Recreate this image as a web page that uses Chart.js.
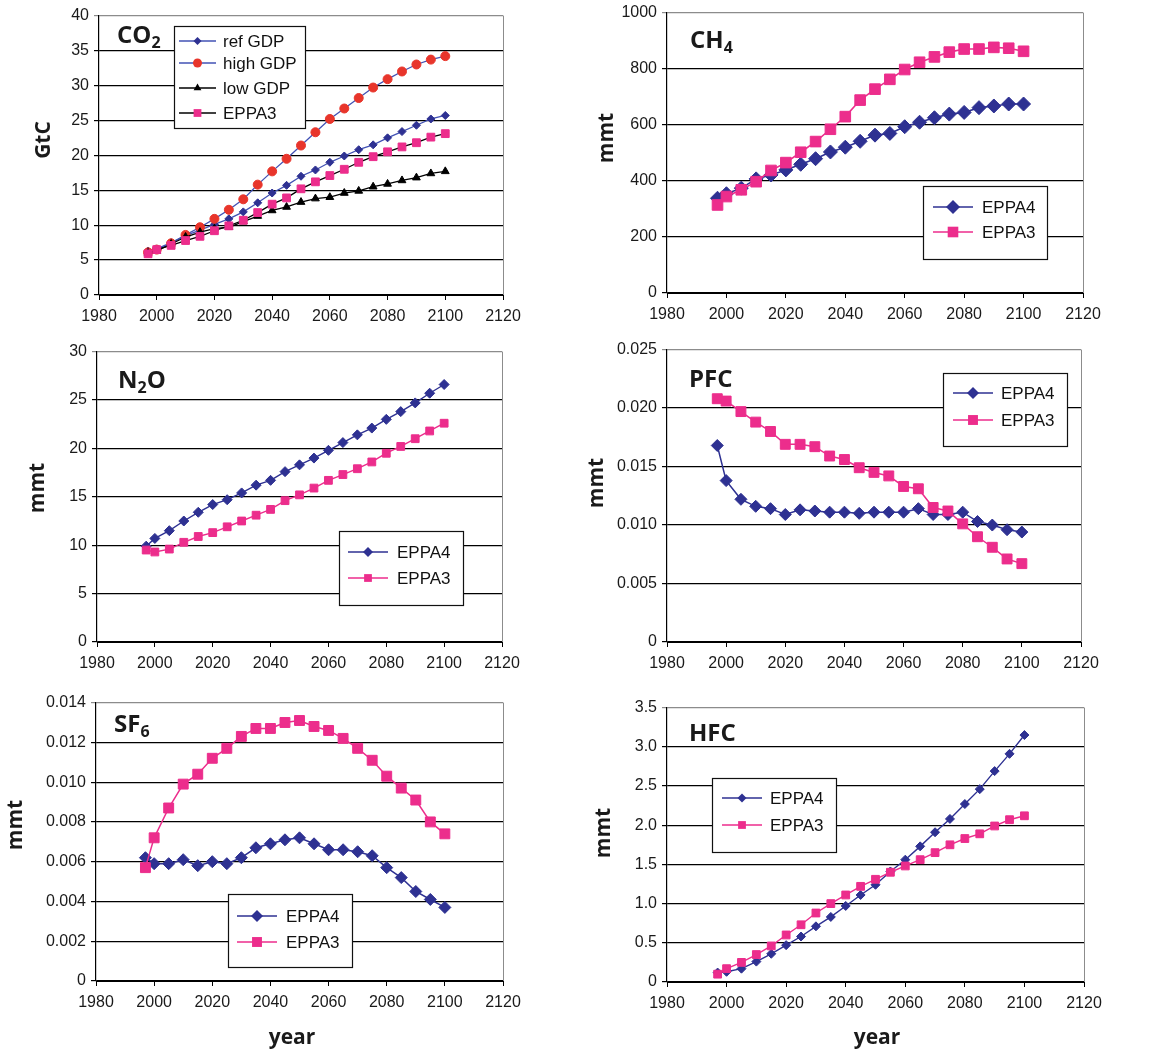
<!DOCTYPE html>
<html>
<head>
<meta charset="utf-8">
<script src="https://cdn.jsdelivr.net/npm/chart.js@4.4.1/dist/chart.umd.min.js"></script>
<style>
  html, body { margin: 0; padding: 0; background: #fff; }
  body { width: 1164px; height: 1052px; position: relative; overflow: hidden; }
  canvas { position: absolute; }
</style>
</head>
<body>
<canvas id="co2"></canvas>
<canvas id="ch4"></canvas>
<canvas id="n2o"></canvas>
<canvas id="pfc"></canvas>
<canvas id="sf6"></canvas>
<canvas id="hfc"></canvas>
<script>
// data
const years = [1997, 2000, 2005, 2010, 2015, 2020, 2025, 2030, 2035, 2040, 2045,
               2050, 2055, 2060, 2065, 2070, 2075, 2080, 2085, 2090, 2095, 2100];
const xTickLabels = ['1980', '2000', '2020', '2040', '2060', '2080', '2100', '2120'];

const co2RefGdp  = [6.3, 6.6, 7.5, 8.5, 9.3, 10.1, 10.9, 11.9, 13.2, 14.6, 15.7, 17.0, 17.9, 19.0, 19.9, 20.8, 21.5, 22.5, 23.4, 24.3, 25.2, 25.7];
const co2HighGdp = [6.1, 6.5, 7.4, 8.6, 9.7, 10.9, 12.2, 13.7, 15.8, 17.7, 19.5, 21.4, 23.3, 25.2, 26.7, 28.2, 29.7, 30.9, 32.0, 33.0, 33.7, 34.2];
const co2LowGdp  = [6.0, 6.3, 7.3, 8.3, 9.0, 9.5, 9.7, 10.5, 11.3, 12.1, 12.6, 13.3, 13.8, 14.0, 14.6, 14.9, 15.5, 15.9, 16.4, 16.8, 17.4, 17.7];
const co2Eppa3   = [5.9, 6.5, 7.1, 7.8, 8.4, 9.2, 9.9, 10.7, 11.8, 13.0, 13.9, 15.2, 16.2, 17.1, 18.0, 19.0, 19.8, 20.5, 21.2, 21.8, 22.6, 23.1];
const co2Ticks   = ['0', '5', '10', '15', '20', '25', '30', '35', '40'];

const ch4Eppa4 = [338, 354, 374, 407, 421, 439, 459, 479, 503, 520, 541, 563, 569, 593, 609, 625, 638, 644, 661, 667, 674, 674];
const ch4Eppa3 = [314, 344, 368, 397, 437, 465, 502, 540, 584, 629, 688, 727, 762, 797, 823, 842, 859, 870, 870, 876, 873, 862];
const ch4Ticks = ['0', '200', '400', '600', '800', '1000'];

const n2oEppa4 = [9.9, 10.7, 11.5, 12.5, 13.4, 14.2, 14.7, 15.4, 16.2, 16.7, 17.6, 18.3, 19.0, 19.8, 20.6, 21.4, 22.1, 23.0, 23.8, 24.7, 25.7, 26.6];
const n2oEppa3 = [9.5, 9.3, 9.6, 10.3, 10.9, 11.3, 11.9, 12.5, 13.1, 13.7, 14.6, 15.2, 15.9, 16.7, 17.3, 17.9, 18.6, 19.5, 20.2, 21.0, 21.8, 22.6];
const n2oTicks = ['0', '5', '10', '15', '20', '25', '30'];

const pfcEppa4 = [0.0168, 0.0138, 0.0122, 0.0116, 0.0114, 0.0109, 0.0113, 0.0112, 0.0111, 0.0111, 0.0110,
                  0.0111, 0.0111, 0.0111, 0.0114, 0.0109, 0.0109, 0.0111, 0.0103, 0.0100, 0.0096, 0.0094];
const pfcEppa3 = [0.0208, 0.0206, 0.0197, 0.0188, 0.0180, 0.0169, 0.0169, 0.0167, 0.0159, 0.0156, 0.0149,
                  0.0145, 0.0142, 0.0133, 0.0131, 0.0115, 0.0112, 0.0101, 0.0090, 0.0081, 0.0071, 0.0067];
const pfcTicks = ['0', '0.005', '0.010', '0.015', '0.020', '0.025'];

const sf6Eppa4 = [0.0062, 0.0059, 0.0059, 0.0061, 0.0058, 0.0060, 0.0059, 0.0062, 0.0067, 0.0069, 0.0071,
                  0.0072, 0.0069, 0.0066, 0.0066, 0.0065, 0.0063, 0.0057, 0.0052, 0.0045, 0.0041, 0.0037];
const sf6Eppa3 = [0.0057, 0.0072, 0.0087, 0.0099, 0.0104, 0.0112, 0.0117, 0.0123, 0.0127, 0.0127, 0.0130,
                  0.0131, 0.0128, 0.0126, 0.0122, 0.0117, 0.0111, 0.0103, 0.0097, 0.0091, 0.0080, 0.0074];
const sf6Ticks = ['0', '0.002', '0.004', '0.006', '0.008', '0.010', '0.012', '0.014'];

const hfcEppa4 = [0.12, 0.13, 0.17, 0.26, 0.36, 0.47, 0.58, 0.71, 0.83, 0.97, 1.11, 1.24, 1.41, 1.56, 1.73, 1.91, 2.08, 2.27, 2.46, 2.69, 2.91, 3.15];
const hfcEppa3 = [0.10, 0.17, 0.25, 0.35, 0.46, 0.60, 0.73, 0.88, 1.00, 1.11, 1.22, 1.31, 1.40, 1.48, 1.56, 1.65, 1.75, 1.83, 1.89, 1.99, 2.07, 2.12];
const hfcTicks = ['0', '0.5', '1.0', '1.5', '2.0', '2.5', '3.0', '3.5'];

const NAVY = '#2e3192';
const BLUE = '#4252b4';
const PINK = '#ec2d8c';
const RED = '#e8352b';

Chart.defaults.font.family = '"Liberation Sans", Arial, sans-serif';
Chart.defaults.font.size = 16;
Chart.defaults.color = '#1a1a1a';

function pts(vals) {
    return years.map((x, i) => ({ x: x, y: vals[i] }));
}

function series(label, vals, lineColor, markColor, style, radius, width) {
    return {
        label: label,
        data: pts(vals),
        borderColor: lineColor,
        backgroundColor: markColor,
        pointBackgroundColor: markColor,
        pointBorderColor: markColor,
        pointStyle: style,
        pointRadius: radius,
        pointBorderWidth: 1,
        borderWidth: width,
        tension: 0,
        fill: false
    };
}

function drawMarker(ctx, style, x, y, r) {
    ctx.beginPath();
    if (style === 'rectRot') {
        ctx.moveTo(x, y - r); ctx.lineTo(x + r, y); ctx.lineTo(x, y + r); ctx.lineTo(x - r, y);
        ctx.closePath();
    } else if (style === 'rect') {
        const s = r * Math.SQRT1_2;
        ctx.rect(x - s, y - s, 2 * s, 2 * s);
    } else if (style === 'circle') {
        ctx.arc(x, y, r, 0, Math.PI * 2);
    } else if (style === 'triangle') {
        for (let k = 0; k < 3; k++) {
            const a = k * 2 * Math.PI / 3;
            const px = x + Math.sin(a) * r, py = y - Math.cos(a) * r;
            if (k === 0) ctx.moveTo(px, py); else ctx.lineTo(px, py);
        }
        ctx.closePath();
    }
    ctx.fill();
}

// titles, axis names, right border and legend box
const decor = {
    id: 'decor',
    afterDraw(chart) {
        const d = chart.options.plugins.decor;
        const ctx = chart.ctx;
        const a = chart.chartArea;
        const ox = d.ox, oy = d.oy;
        ctx.save();

        ctx.strokeStyle = '#8c8c8c';
        ctx.lineWidth = 1;
        const rx = Math.round(a.right) + 0.5;
        ctx.beginPath(); ctx.moveTo(rx, a.top); ctx.lineTo(rx, a.bottom); ctx.stroke();

        // panel title with subscripts
        let tx = d.title.x - ox;
        const ty = d.title.y - oy;
        ctx.fillStyle = '#1a1a1a';
        ctx.textAlign = 'left';
        ctx.textBaseline = 'alphabetic';
        d.title.parts.forEach(p => {
            ctx.font = p.sub ? '700 16px "Open Sans"' : '700 24px "Open Sans"';
            ctx.fillText(p.t, tx, p.sub ? ty + 5 : ty);
            tx += ctx.measureText(p.t).width;
        });

        ctx.font = '700 21px "Open Sans"';
        ctx.textAlign = 'center';
        ctx.textBaseline = 'middle';
        ctx.save();
        ctx.translate(d.yTitle.x - ox, d.yTitle.y - oy);
        ctx.rotate(-Math.PI / 2);
        ctx.fillText(d.yTitle.text, 0, 0);
        ctx.restore();
        if (d.xTitle) {
            ctx.fillText(d.xTitle.text, d.xTitle.x - ox, d.xTitle.y - oy);
        }

        // legend
        const L = d.legend;
        const bx = L.box[0] - ox + 0.5, by = L.box[1] - oy + 0.5;
        const bw = L.box[2] - L.box[0], bh = L.box[3] - L.box[1];
        ctx.fillStyle = '#fff';
        ctx.fillRect(bx, by, bw, bh);
        ctx.strokeStyle = '#111';
        ctx.lineWidth = 1.2;
        ctx.strokeRect(bx, by, bw, bh);
        ctx.font = '17px "Liberation Sans"';
        ctx.textAlign = 'left';
        chart.data.datasets.forEach((ds, i) => {
            const y = L.rows[i] - oy;
            ctx.strokeStyle = ds.borderColor;
            ctx.lineWidth = ds.borderWidth;
            ctx.beginPath(); ctx.moveTo(L.line[0] - ox, y); ctx.lineTo(L.line[1] - ox, y); ctx.stroke();
            ctx.fillStyle = ds.pointBackgroundColor;
            drawMarker(ctx, ds.pointStyle, (L.line[0] + L.line[1]) / 2 - ox, y, ds.pointRadius);
            ctx.fillStyle = '#111';
            ctx.fillText(ds.label, L.textX - ox, y + 1);
        });
        ctx.restore();
    }
};

const panels = [
    {
        id: 'co2', col: 0, area: { l: 99, r: 503, t: 15, b: 295 }, bottomRow: false,
        yMax: 40, yStep: 5, yTicks: co2Ticks,
        datasets: [
            series('ref GDP', co2RefGdp, BLUE, NAVY, 'rectRot', 4, 1.3),
            series('high GDP', co2HighGdp, BLUE, RED, 'circle', 4.5, 1.3),
            series('low GDP', co2LowGdp, '#000', '#000', 'triangle', 4.5, 1.3),
            series('EPPA3', co2Eppa3, '#000', PINK, 'rect', 5.5, 1.3)
        ],
        title: { x: 117, y: 43, parts: [{ t: 'CO' }, { t: '2', sub: true }] },
        yTitle: { x: 44, y: 140, text: 'GtC' },
        legend: { box: [174, 26, 305, 128], rows: [41, 63, 88, 113], line: [179, 216], textX: 223 }
    },
    {
        id: 'ch4', col: 1, area: { l: 667, r: 1083, t: 12, b: 293 }, bottomRow: false,
        yMax: 1000, yStep: 200, yTicks: ch4Ticks,
        datasets: [
            series('EPPA4', ch4Eppa4, NAVY, NAVY, 'rectRot', 7, 1.6),
            series('EPPA3', ch4Eppa3, PINK, PINK, 'rect', 7.5, 1.6)
        ],
        title: { x: 690, y: 48, parts: [{ t: 'CH' }, { t: '4', sub: true }] },
        yTitle: { x: 607, y: 138, text: 'mmt' },
        legend: { box: [923, 186, 1047, 259], rows: [207, 232], line: [933, 973], textX: 982 }
    },
    {
        id: 'n2o', col: 0, area: { l: 97, r: 502, t: 351, b: 642 }, bottomRow: false,
        yMax: 30, yStep: 5, yTicks: n2oTicks,
        datasets: [
            series('EPPA4', n2oEppa4, NAVY, NAVY, 'rectRot', 5, 1.4),
            series('EPPA3', n2oEppa3, PINK, PINK, 'rect', 5.5, 1.4)
        ],
        title: { x: 118, y: 388, parts: [{ t: 'N' }, { t: '2', sub: true }, { t: 'O' }] },
        yTitle: { x: 38, y: 488, text: 'mmt' },
        legend: { box: [339, 531, 463, 605], rows: [552, 578], line: [348, 388], textX: 397 }
    },
    {
        id: 'pfc', col: 1, area: { l: 667, r: 1081, t: 349, b: 642 }, bottomRow: false,
        yMax: 0.025, yStep: 0.005, yTicks: pfcTicks,
        datasets: [
            series('EPPA4', pfcEppa4, NAVY, NAVY, 'rectRot', 6, 1.5),
            series('EPPA3', pfcEppa3, PINK, PINK, 'rect', 7, 1.5)
        ],
        title: { x: 689, y: 387, parts: [{ t: 'PFC' }] },
        yTitle: { x: 597, y: 483, text: 'mmt' },
        legend: { box: [943, 373, 1067, 446], rows: [393, 420], line: [953, 993], textX: 1001 }
    },
    {
        id: 'sf6', col: 0, area: { l: 96, r: 503, t: 702, b: 981 }, bottomRow: true,
        yMax: 0.014, yStep: 0.002, yTicks: sf6Ticks,
        datasets: [
            series('EPPA4', sf6Eppa4, NAVY, NAVY, 'rectRot', 6, 1.5),
            series('EPPA3', sf6Eppa3, PINK, PINK, 'rect', 7, 1.5)
        ],
        title: { x: 114, y: 732, parts: [{ t: 'SF' }, { t: '6', sub: true }] },
        yTitle: { x: 16, y: 825, text: 'mmt' },
        xTitle: { x: 292, y: 1038, text: 'year' },
        legend: { box: [228, 894, 352, 967], rows: [916, 942], line: [237, 277], textX: 286 }
    },
    {
        id: 'hfc', col: 1, area: { l: 667, r: 1084, t: 707, b: 982 }, bottomRow: true,
        yMax: 3.5, yStep: 0.5, yTicks: hfcTicks,
        datasets: [
            series('EPPA4', hfcEppa4, NAVY, NAVY, 'rectRot', 4.5, 1.4),
            series('EPPA3', hfcEppa3, PINK, PINK, 'rect', 5.5, 1.4)
        ],
        title: { x: 689, y: 741, parts: [{ t: 'HFC' }] },
        yTitle: { x: 604, y: 833, text: 'mmt' },
        xTitle: { x: 877, y: 1038, text: 'year' },
        legend: { box: [712, 778, 836, 852], rows: [798, 825], line: [722, 762], textX: 770 }
    }
];

panels.forEach(p => {
    const padTop = 14, padRight = 30;
    const left = p.col === 0 ? 0 : 580;
    const top = p.area.t - padTop;
    const width = p.area.r + padRight - left;
    const bottom = p.bottomRow ? 1052 : p.area.b + 40;
    const height = bottom - top;
    const yw = p.area.l - left;
    const xh = bottom - p.area.b;

    const canvas = document.getElementById(p.id);
    canvas.width = width;
    canvas.height = height;
    canvas.style.left = left + 'px';
    canvas.style.top = top + 'px';
    canvas.style.width = width + 'px';
    canvas.style.height = height + 'px';

    // later series on top, as in the original
    p.datasets.forEach((ds, i) => { ds.order = -i; });
    const lastTick = p.yTicks.length - 1;

    new Chart(canvas, {
        type: 'line',
        data: { datasets: p.datasets },
        options: {
            responsive: false,
            animation: false,
            layout: { padding: { top: padTop, right: padRight, left: 0, bottom: 0 } },
            plugins: {
                legend: { display: false },
                tooltip: { enabled: false },
                decor: {
                    ox: left, oy: top, title: p.title, yTitle: p.yTitle,
                    xTitle: p.xTitle, legend: p.legend
                }
            },
            scales: {
                x: {
                    type: 'linear',
                    min: 1980,
                    max: 2120,
                    ticks: {
                        stepSize: 20,
                        padding: 7,
                        callback: (v, i) => xTickLabels[i]
                    },
                    grid: { drawOnChartArea: false, drawTicks: true, tickLength: 5, color: '#000' },
                    border: { color: '#000', width: 1 },
                    afterFit: s => { s.height = xh; }
                },
                y: {
                    min: 0,
                    max: p.yMax,
                    ticks: {
                        stepSize: p.yStep,
                        padding: 5,
                        callback: (v, i) => p.yTicks[i]
                    },
                    grid: {
                        color: c => c.index === lastTick ? '#8c8c8c' : '#000',
                        lineWidth: 1.2,
                        tickLength: 5
                    },
                    border: { color: '#000', width: 1.2 },
                    afterFit: s => { s.width = yw; }
                }
            }
        },
        plugins: [decor]
    });
});
</script>
</body>
</html>
